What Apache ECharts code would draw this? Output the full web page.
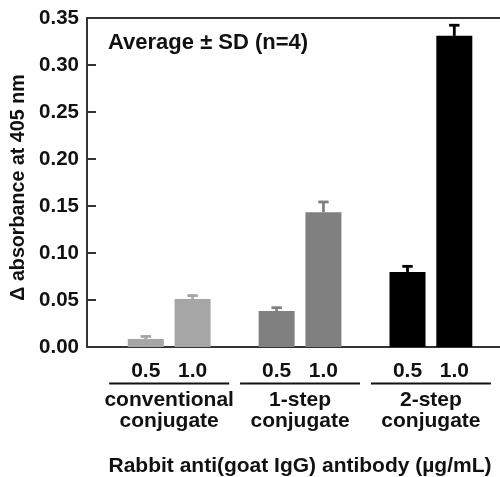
<!DOCTYPE html>
<html>
<head>
<meta charset="utf-8">
<script src="https://cdn.jsdelivr.net/npm/echarts@6/dist/echarts.min.js"></script>
<style>
html,body{margin:0;padding:0;background:#fff;}
#chart{width:500px;height:477px;}
</style>
</head>
<body>
<div id="chart"></div>
<script>
// ---- data ----
const groups = ['conventional\nconjugate', '1-step\nconjugate', '2-step\nconjugate'];
const doses = ['0.5', '1.0'];
const mean05 = [0.0085, 0.0383, 0.0798];
const mean10 = [0.051, 0.1433, 0.331];
const sd05 = [0.0027, 0.0035, 0.006];
const sd10 = [0.0037, 0.011, 0.0113];
const groupColors = ['#a6a6a6', '#808080', '#000000'];
const yMin = 0, yMax = 0.35, yStep = 0.05;
const yTitle = 'Δ absorbance at 405 nm';
const xTitle = 'Rabbit anti(goat IgG) antibody (µg/mL)';
const note = 'Average ± SD (n=4)';

// ---- style ----
const FONT = 'Liberation Sans, Arial, Helvetica, sans-serif';
const BAR_W = 36;
const GAP = 0.3;
const AXIS_COLOR = '#333';
const TXT = '#111';

const chart = echarts.init(document.getElementById('chart'));

const means = [mean05, mean10];
const sds = [sd05, sd10];

function barSeries(k) {
  return {
    type: 'bar',
    name: doses[k],
    barWidth: BAR_W,
    barGap: (GAP * 100) + '%',
    xAxisIndex: 0,
    data: means[k].map((v, i) => ({value: [i, v], itemStyle: {color: groupColors[i]}}))
  };
}

function errSeries(k) {
  const off = (k === 0 ? -1 : 1) * (BAR_W + BAR_W * GAP) / 2;
  return {
    type: 'custom',
    xAxisIndex: 0,
    z: 3,
    data: means[k].map((v, i) => [i, v, sds[k][i]]),
    renderItem: function (params, api) {
      const i = api.value(0), v = api.value(1), e = api.value(2);
      const base = api.coord([i, v]);
      const top = api.coord([i, v + e]);
      const x = base[0] + off;
      const c = groupColors[i];
      return {
        type: 'group',
        children: [
          {type: 'rect', shape: {x: x - 1.4, y: top[1], width: 2.8, height: base[1] - top[1]}, style: {fill: c}},
          {type: 'rect', shape: {x: x - 5.2, y: top[1] - 1.4, width: 10.4, height: 2.8}, style: {fill: c}}
        ]
      };
    }
  };
}

const option = {
  animation: false,
  backgroundColor: '#fff',
  textStyle: {fontFamily: FONT},
  title: {
    text: note,
    left: 108,
    top: 32,
    padding: 0,
    textStyle: {fontFamily: FONT, fontSize: 22, fontWeight: 'bold', color: TXT}
  },
  grid: {left: 87, right: 0, top: 18, bottom: 130, containLabel: false, outerBoundsMode: 'none'},
  xAxis: [
    {
      type: 'value',
      position: 'bottom',
      min: -0.628,
      max: 2.528,
      splitLine: {show: false},
      axisLine: {show: true, onZero: false, lineStyle: {color: AXIS_COLOR, width: 2}},
      axisTick: {show: false},
      axisLabel: {
        customValues: groups.map((g, i) => i),
        margin: 14,
        color: TXT,
        formatter: function (val) {
          const i = Math.round(val);
          const parts = groups[i].split('\n');
          return '{num|' + doses[0] + '}{num|' + doses[1] + '}\n{ul|}\n{g1|' + parts[0] + '}\n{g2|' + parts[1] + '}';
        },
        rich: {
          num: {fontFamily: FONT, fontSize: 21, fontWeight: 'bold', color: TXT, width: BAR_W * (1 + GAP), align: 'center', lineHeight: 20},
          ul: {width: 120, height: 2, backgroundColor: TXT, lineHeight: 5},
          g1: {fontFamily: FONT, fontSize: 21, fontWeight: 'bold', color: TXT, lineHeight: 28, align: 'center'},
          g2: {fontFamily: FONT, fontSize: 21, fontWeight: 'bold', color: TXT, lineHeight: 14, align: 'center'}
        }
      },
      name: xTitle,
      nameLocation: 'middle',
      nameGap: 109,
      nameTextStyle: {fontFamily: FONT, fontSize: 21, fontWeight: 'bold', color: TXT, padding: [0, 0, 0, 13]}
    },
    {
      type: 'value',
      position: 'top',
      min: -0.628,
      max: 2.528,
      splitLine: {show: false},
      axisLine: {show: true, onZero: false, lineStyle: {color: AXIS_COLOR, width: 2}},
      axisTick: {show: false},
      axisLabel: {show: false}
    }
  ],
  yAxis: {
    type: 'value',
    min: yMin,
    max: yMax,
    interval: yStep,
    splitLine: {show: false},
    axisLine: {show: true, onZero: false, lineStyle: {color: AXIS_COLOR, width: 2}},
    axisTick: {show: true, inside: true, length: 9, lineStyle: {color: AXIS_COLOR, width: 2}},
    axisLabel: {
      margin: 8,
      fontFamily: FONT, fontSize: 20.5, fontWeight: 'bold', color: TXT,
      formatter: v => v.toFixed(2)
    },
    name: yTitle,
    nameLocation: 'middle',
    nameGap: 52,
    nameTextStyle: {fontFamily: FONT, fontSize: 19.7, fontWeight: 'bold', color: TXT, padding: [0, 10, 0, 0]}
  },
  series: [barSeries(0), barSeries(1), errSeries(0), errSeries(1)]
};

chart.setOption(option);
</script>
</body>
</html>
